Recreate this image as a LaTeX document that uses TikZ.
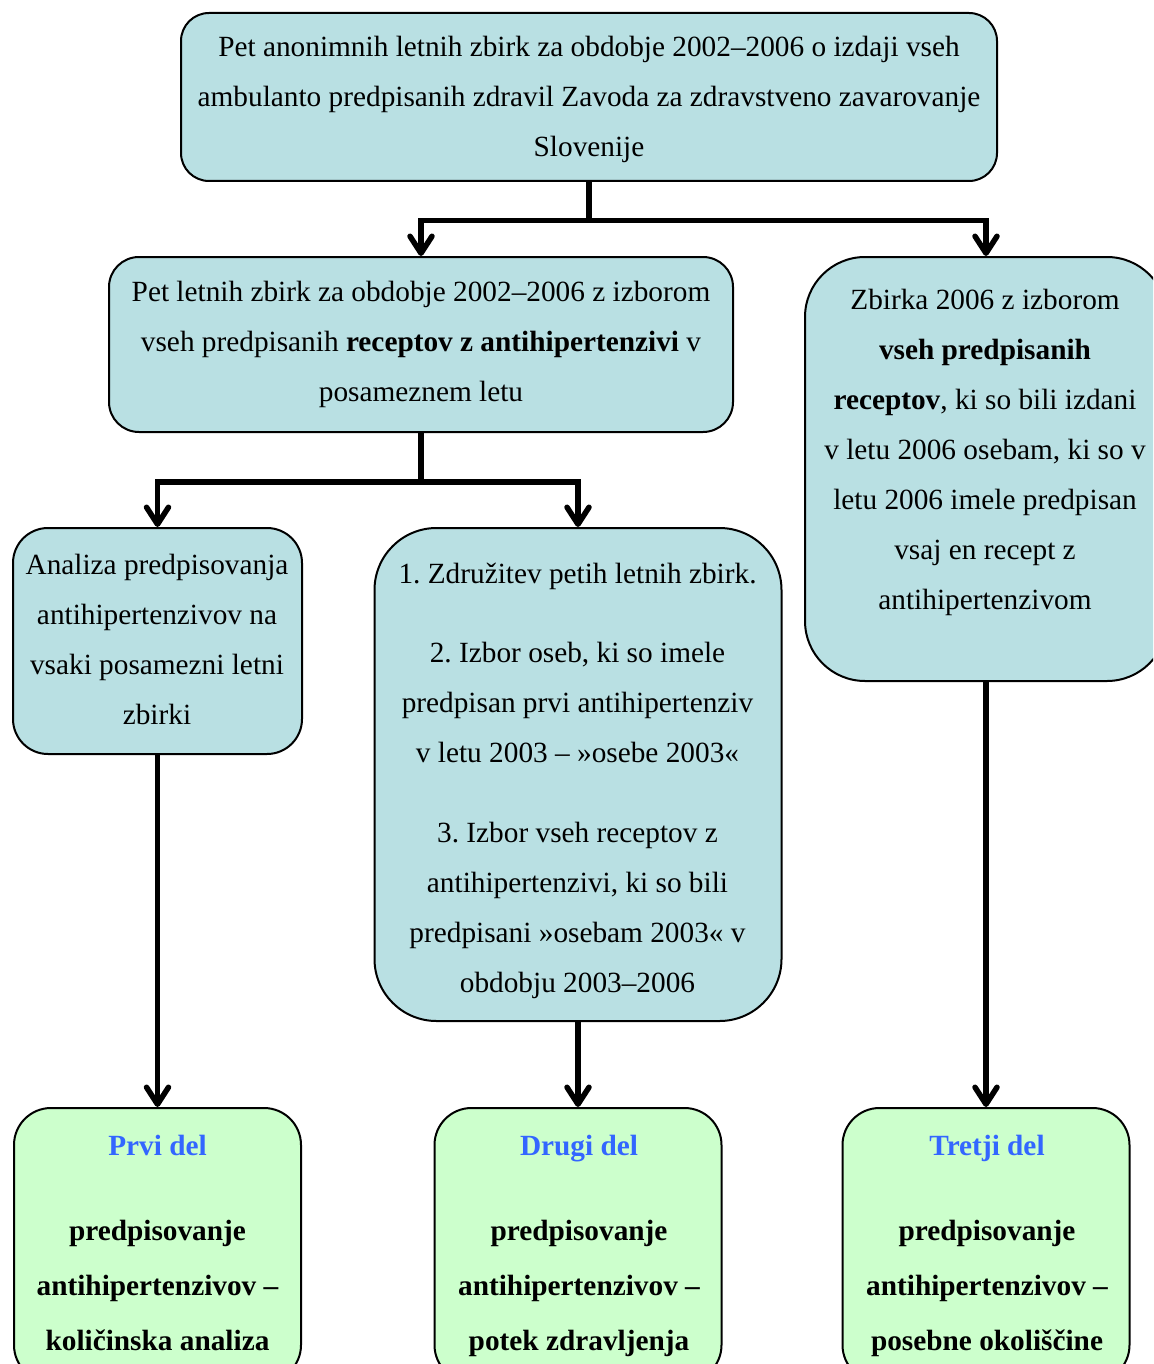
\documentclass[tikz,border=0pt]{standalone}
\usepackage{fontspec}
\setmainfont{Liberation Serif}
\usetikzlibrary{arrows.meta}
\definecolor{boxblue}{RGB}{185,224,227}
\definecolor{boxgreen}{RGB}{204,255,204}
\definecolor{titleblue}{RGB}{51,102,255}
\newcommand{\regtext}{\fontsize{29.3}{50}\selectfont}
\newcommand{\boldtext}{\fontsize{29.3}{55}\selectfont\bfseries}
\frenchspacing
\begin{document}
\begin{tikzpicture}[x=1pt,y=-1pt,
  bluebox/.style={draw=black, line width=2pt, fill=boxblue, rounded corners=#1, inner sep=0pt, shape=rectangle},
  bluebox/.default=28pt,
  greenbox/.style={draw=black, line width=2pt, fill=boxgreen, rounded corners=37pt, inner sep=0pt, shape=rectangle, minimum width=287pt, minimum height=274pt},
  txt/.style={inner sep=0pt, anchor=base},
  conn/.style={line width=5.5pt, line join=miter},
  arr/.style={conn, -{Straight Barb[length=17pt, width=22pt, line cap=round, line join=round]}}
]
\useasboundingbox (0,0) rectangle (1153,1364);
\clip (0,0) rectangle (1153,1364);

% boxes
\node[bluebox=28pt, minimum width=816pt, minimum height=168pt] (top) at (589,97) {};
\node[bluebox=30pt, minimum width=624pt, minimum height=175pt] (b2) at (421,344.5) {};
\node[bluebox=60pt, minimum width=362pt, minimum height=424pt] (b3) at (986,469) {};
\node[bluebox=35pt, minimum width=289pt, minimum height=226pt] (b4) at (157.5,641) {};
\node[bluebox=62pt, minimum width=407pt, minimum height=493pt] (b5) at (578,774.5) {};
\node[greenbox] (b6) at (157.5,1245) {};
\node[greenbox] (b7) at (578,1245) {};
\node[greenbox] (b8) at (986,1245) {};

% texts
\node[txt] (ttop) at (589,57) {\regtext\begin{tabular}[t]{@{}c@{}}
Pet anonimnih letnih zbirk za obdobje 2002–2006 o izdaji vseh\\
ambulanto predpisanih zdravil Zavoda za zdravstveno zavarovanje\\
Slovenije\end{tabular}};

\node[txt] (tb2) at (421,301) {\regtext\begin{tabular}[t]{@{}c@{}}
Pet letnih zbirk za obdobje 2002–2006 z izborom\\
vseh predpisanih \textbf{receptov z antihipertenzivi} v\\
posameznem letu\end{tabular}};

\node[txt] (tb3) at (985,309) {\regtext\begin{tabular}[t]{@{}c@{}}
Zbirka 2006 z izborom\\
\textbf{vseh predpisanih}\\
\textbf{receptov}, ki so bili izdani\\
v letu 2006 osebam, ki so v\\
letu 2006 imele predpisan\\
vsaj en recept z\\
antihipertenzivom\end{tabular}};

\node[txt] (tb4) at (157,574) {\regtext\begin{tabular}[t]{@{}c@{}}
Analiza predpisovanja\\
antihipertenzivov na\\
vsaki posamezni letni\\
zbirki\end{tabular}};

\node[txt] (tb5) at (577.5,583) {\regtext\begin{tabular}[t]{@{}c@{}}
1. Združitev petih letnih zbirk.\\[29pt]
2. Izbor oseb, ki so imele\\
predpisan prvi antihipertenziv\\
v letu 2003 – »osebe 2003«\\[30pt]
3. Izbor vseh receptov z\\
antihipertenzivi, ki so bili\\
predpisani »osebam 2003« v\\
obdobju 2003–2006\end{tabular}};

\node[txt] (tb6) at (157.5,1155) {\boldtext\begin{tabular}[t]{@{}c@{}}
\textcolor{titleblue}{Prvi del}\\[30pt]
predpisovanje\\
antihipertenzivov –\\
količinska analiza\end{tabular}};

\node[txt] (tb7) at (579,1155) {\boldtext\begin{tabular}[t]{@{}c@{}}
\textcolor{titleblue}{Drugi del}\\[30pt]
predpisovanje\\
antihipertenzivov –\\
potek zdravljenja\end{tabular}};

\node[txt] (tb8) at (987,1155) {\boldtext\begin{tabular}[t]{@{}c@{}}
\textcolor{titleblue}{Tretji del}\\[30pt]
predpisovanje\\
antihipertenzivov –\\
posebne okoliščine\end{tabular}};

% connectors
\coordinate (j1) at (589,220.5);
\coordinate (j2) at (421,482);
\draw[conn] (top.south) -- (j1);
\draw[arr] (j1) -| (b2.north);
\draw[arr] (j1) -| (b3.north);
\draw[conn] (b2.south) -- (j2);
\draw[arr] (j2) -| (b4.north);
\draw[arr] (j2) -| (b5.north);
\draw[arr] (b4.south) -- (b6.north);
\draw[arr] (b5.south) -- (b7.north);
\draw[arr] (b3.south) -- (b8.north);
\end{tikzpicture}
\end{document}
